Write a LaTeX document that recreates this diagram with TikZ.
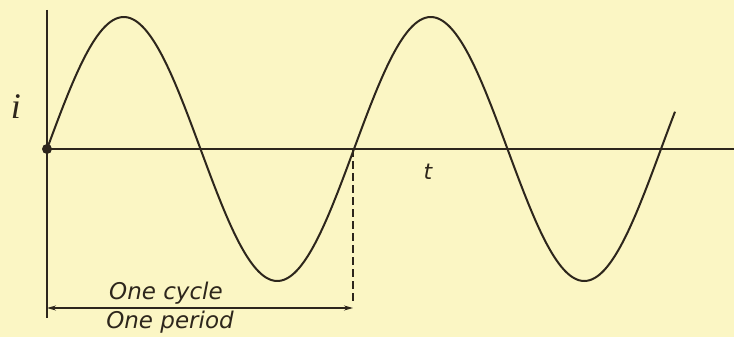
\documentclass[tikz,border=0pt]{standalone}
\usepackage{fontspec}
\setmainfont{DejaVu Sans}
\newfontfamily\serifit{Liberation Serif}
\usetikzlibrary{arrows.meta}
\definecolor{paper}{RGB}{251,246,196}
\definecolor{ink}{RGB}{45,38,28}
\begin{document}
\begin{tikzpicture}[x=1pt,y=-1pt,
  axis/.style={draw=ink,line width=2.4pt},
  wave/.style={draw=ink,line width=2pt},
  dim/.style={draw=ink,line width=1.3pt},
  lbl/.style={text=ink,font=\fontsize{23}{25}\selectfont\itshape,inner sep=0pt}]
\fill[paper] (0,0) rectangle (734,337);
\useasboundingbox (0,0) rectangle (734,337);
\coordinate (O) at (47,149);
\coordinate (Ytop) at (47,10);
\coordinate (Ybot) at (47,318);
\coordinate (Xend) at (734,149);
\coordinate (P) at (353,149);
\coordinate (Pbot) at (353,302);
\coordinate (A) at (47,308);
\coordinate (B) at (353,308);
\draw[axis] (Ytop) -- (Ybot);
\draw[axis] (O) -- (Xend);
\draw[wave] plot[domain=47:675,samples=250,smooth] (\x,{149-132*sin((\x-47)*1.172638)});
\fill[ink] (O) circle (5);
\draw[dim,line width=1.1pt,dash pattern=on 8pt off 4pt] (P) -- (Pbot);
\draw[dim,{Stealth[length=9pt,width=5pt]}-{Stealth[length=9pt,width=5pt]}] (A) -- (B);
\node[lbl] (cyc) at (166,293) {One cycle};
\node[lbl] (per) at (170,322) {One period};
\node[text=ink,inner sep=0pt,font=\fontsize{36}{38}\selectfont\serifit\itshape] (i) at (16,107) {i};
\node[lbl,font=\fontsize{22}{24}\selectfont\itshape] (t) at (428,172) {t};
\end{tikzpicture}
\end{document}
